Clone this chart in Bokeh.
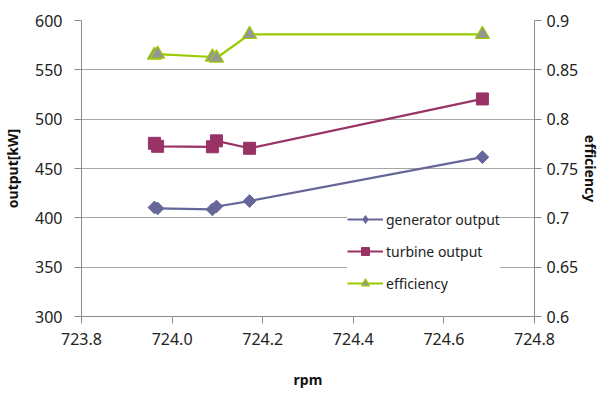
import numpy as np
from bokeh.plotting import figure
from bokeh.models import (Range1d, LinearAxis, FixedTicker, NumeralTickFormatter,
                          PrintfTickFormatter, Legend, LegendItem)
from bokeh.embed import file_html
from bokeh.resources import INLINE

# ---- data ----
rpm = [723.961, 723.968, 724.089, 724.098, 724.171, 724.685]
generator_output = [410.5, 409.5, 408.5, 411.5, 417.0, 461.5]
turbine_output = [475.5, 472.5, 472.0, 478.0, 470.5, 520.5]
efficiency = [0.865, 0.866, 0.863, 0.862, 0.886, 0.886]

x_ticks = [723.8, 724.0, 724.2, 724.4, 724.6, 724.8]
y_ticks = [300, 350, 400, 450, 500, 550, 600]
eff_ticks = [0.6, 0.65, 0.7, 0.75, 0.8, 0.85, 0.9]

FONT = "Noto Sans"
C_GEN = "#666699"
C_TUR = "#993366"
C_EFF = "#99CC00"
C_TRI = "#969696"
AXIS_C = "#8c8c8c"
GRID_C = "#a6a6a6"

p = figure(width=606, height=393, output_backend="svg", toolbar_location=None,
           x_range=Range1d(723.8, 724.8), y_range=Range1d(300, 600))
p.min_border_left = 79
p.min_border_right = 72
p.min_border_top = 20
p.min_border_bottom = 77
p.outline_line_color = None
p.background_fill_color = "white"
p.border_fill_color = "white"

p.extra_y_ranges = {"eff": Range1d(0.6, 0.9)}

# grid
p.xgrid.grid_line_color = None
p.ygrid.grid_line_color = GRID_C
p.ygrid.grid_line_width = 1
p.ygrid.ticker = FixedTicker(ticks=y_ticks)

def style_axis(ax):
    ax.axis_line_color = AXIS_C
    ax.major_tick_line_color = AXIS_C
    ax.minor_tick_line_color = None
    ax.major_tick_out = 7
    ax.major_tick_in = 0
    ax.major_label_text_font = FONT
    ax.major_label_text_font_size = "16px"
    ax.major_label_text_color = "#222222"
    ax.axis_label_text_font = FONT
    ax.axis_label_text_font_size = "14px"
    ax.axis_label_text_font_style = "bold"
    ax.axis_label_text_color = "#111111"

# x axis
xa = p.xaxis[0]
style_axis(xa)
xa.ticker = FixedTicker(ticks=x_ticks)
xa.formatter = PrintfTickFormatter(format="%.1f")
xa.axis_label = "rpm"
xa.major_label_standoff = 9
xa.axis_label_standoff = 22

# left axis
ya = p.yaxis[0]
style_axis(ya)
ya.ticker = FixedTicker(ticks=y_ticks)
ya.axis_label = "output[kW]"
ya.major_label_standoff = 12
ya.axis_label_standoff = 10

# right axis
ra = LinearAxis(y_range_name="eff", ticker=FixedTicker(ticks=eff_ticks),
                formatter=NumeralTickFormatter(format="0.[00]"),
                axis_label="efficiency")
style_axis(ra)
ra.major_label_standoff = 5
ra.axis_label_standoff = 0
p.add_layout(ra, "right")

# series
g_line = p.line(rpm, generator_output, line_color=C_GEN, line_width=2.2)
g_pts = p.scatter(rpm, generator_output, marker="square", angle=np.pi / 4, size=9,
                  fill_color=C_GEN, line_color=C_GEN)
# legend-only diamond swatch (a single NaN point: nothing is drawn on the chart)
g_key = p.scatter(x=[np.nan], y=[np.nan], marker="diamond", size=12,
                  fill_color=C_GEN, line_color=C_GEN)

t_line = p.line(rpm, turbine_output, line_color=C_TUR, line_width=2.2)
t_pts = p.scatter(rpm, turbine_output, marker="square", size=12,
                  fill_color=C_TUR, line_color=C_TUR)

e_line = p.line(rpm, efficiency, line_color=C_EFF, line_width=2.2, y_range_name="eff")
e_pts = p.scatter(rpm, efficiency, marker="triangle", size=14, y_range_name="eff",
                  fill_color=C_TRI, line_color=C_EFF, line_width=1.2)

legend = Legend(items=[
    LegendItem(label="generator output", renderers=[g_line, g_key]),
    LegendItem(label="turbine output", renderers=[t_line, t_pts]),
    LegendItem(label="efficiency", renderers=[e_line, e_pts]),
], location=(266, 23))
legend.padding = 18
legend.spacing = 12
legend.glyph_width = 36
legend.glyph_height = 20
legend.label_height = 20
legend.label_standoff = 3
legend.label_text_font = FONT
legend.label_text_font_size = "14px"
legend.label_text_color = "#222222"
legend.border_line_color = None
legend.background_fill_color = "white"
legend.background_fill_alpha = 1.0
p.add_layout(legend, "center")

open("out.html", "w").write(file_html(p, INLINE))
